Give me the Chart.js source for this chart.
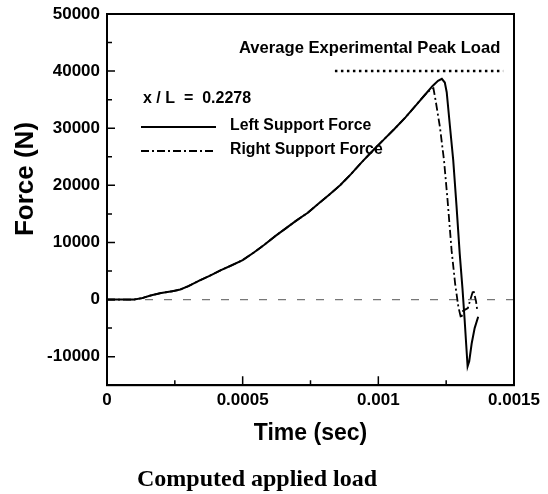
<!DOCTYPE html>
<html>
<head>
<meta charset="utf-8">
<script src="https://cdn.jsdelivr.net/npm/chart.js@4/dist/chart.umd.min.js"></script>
<style>
body{margin:0;background:#fff}
canvas{display:block}
</style>
</head>
<body>
<canvas id="forceChart" width="548" height="494"></canvas>
<script>

// left support force (solid)
let timeLeft = [0,0.0001,0.00013,0.00016,0.0002,0.00024,0.00027,0.0003,0.00034,0.00038,0.00042,0.00046,0.0005,0.00054,0.00058,0.00062,0.00066,0.0007,0.00074,0.00078,0.00082,0.00086,0.0009,0.00094,0.00098,0.00102,0.00106,0.0011,0.00114,0.00118,0.0012,0.00122,0.001234,0.001245,0.001252,0.001264,0.001276,0.001288,0.0013,0.00131,0.001318,0.001324,0.001329,0.001335,0.001344,0.001355,0.001368]
let forceLeft = [0,0,250,700,1150,1450,1750,2350,3300,4200,5150,6000,6900,8200,9600,11100,12500,13900,15200,16800,18400,20050,22000,24100,26100,28000,29900,31900,34100,36300,37400,38300,38650,38000,36300,30300,24400,16500,8000,2000,-3500,-8000,-11700,-10800,-7700,-5000,-3000]

// right support force (dash-dot)
let timeRight = [0,0.0001,0.00013,0.00016,0.0002,0.00024,0.00027,0.0003,0.00034,0.00038,0.00042,0.00046,0.0005,0.00054,0.00058,0.00062,0.00066,0.0007,0.00074,0.00078,0.00082,0.00086,0.0009,0.00094,0.00098,0.00102,0.00106,0.0011,0.00114,0.00118,0.001203,0.001211,0.001227,0.001242,0.001255,0.00127,0.001283,0.001295,0.001305,0.001312,0.00133,0.00135,0.00136,0.001365]
let forceRight = [0,0,250,700,1150,1450,1750,2350,3300,4200,5150,6000,6900,8200,9600,11100,12500,13900,15200,16800,18400,20050,22000,24100,26100,28000,29900,31900,34100,36300,37000,34900,30200,24400,17500,8600,2800,-1300,-3300,-2000,-1500,1700,-300,-2000]

let peakLoad = 40000
let peakTimes = [0.00084,0.00146]

let xTicks = [0,0.0005,0.001,0.0015]
let xTickLabels = ["0","0.0005","0.001","0.0015"]
let xMinor = [0.00025,0.00075,0.00125]
let yTicks = [-10000,0,10000,20000,30000,40000,50000]
let yMinor = [-5000,5000,15000,25000,35000,45000]

let sans = "'Liberation Sans', Arial, sans-serif"

function pts(xs,ys){
return xs.map((x,i)=>({x:x,y:ys[i]}))
}

let frame = {
id:"frame",
afterDraw(chart){
let ctx = chart.ctx
let a = chart.chartArea
let xs = chart.scales.x
let ys = chart.scales.y
ctx.save()
ctx.strokeStyle = "#000"
ctx.lineWidth = 2
ctx.strokeRect(a.left,a.top,a.right-a.left,a.bottom-a.top)

// inward ticks
ctx.lineWidth = 1.5
ctx.beginPath()
xTicks.forEach(v=>{let p=xs.getPixelForValue(v);ctx.moveTo(p,a.bottom);ctx.lineTo(p,a.bottom-9)})
xMinor.forEach(v=>{let p=xs.getPixelForValue(v);ctx.moveTo(p,a.bottom);ctx.lineTo(p,a.bottom-5)})
yTicks.forEach(v=>{let p=ys.getPixelForValue(v);ctx.moveTo(a.left,p);ctx.lineTo(a.left+8,p)})
yMinor.forEach(v=>{let p=ys.getPixelForValue(v);ctx.moveTo(a.left,p);ctx.lineTo(a.left+5,p)})
ctx.stroke()

ctx.fillStyle = "#000"
ctx.textBaseline = "middle"
ctx.font = "bold 16.6px " + sans
ctx.textAlign = "left"
ctx.fillText("Average Experimental Peak Load",239,48)
ctx.font = "bold 16px " + sans
ctx.fillText("x / L  =  0.2278",143,99)
ctx.font = "bold 15.8px " + sans
ctx.fillText("Left Support Force",230,126)
ctx.fillText("Right Support Force",230,150)

// legend samples
ctx.lineWidth = 2
ctx.beginPath()
ctx.moveTo(141,127)
ctx.lineTo(216,127)
ctx.stroke()
ctx.lineWidth = 1.8
ctx.setLineDash([8,3,2,3])
ctx.beginPath()
ctx.moveTo(141,151)
ctx.lineTo(216,151)
ctx.stroke()
ctx.setLineDash([])

// y axis title
ctx.translate(26,179)
ctx.rotate(-Math.PI/2)
ctx.textAlign = "center"
ctx.font = "bold 26px " + sans
ctx.fillText("Force (N)",0,0)
ctx.restore()
}
}

new Chart(document.getElementById("forceChart"),{

type:"line",

data:{
datasets:[
{
label:"Left Support Force",
data:pts(timeLeft,forceLeft),
borderColor:"#000",
borderWidth:2,
pointRadius:0,
order:1
},
{
label:"Right Support Force",
data:pts(timeRight,forceRight),
borderColor:"#000",
borderWidth:1.8,
borderDash:[8,3,2,3],
pointRadius:0,
order:2
},
{
label:"Average Experimental Peak Load",
data:pts(peakTimes,[peakLoad,peakLoad]),
borderColor:"#000",
borderWidth:2.5,
borderDash:[2.5,3.5],
pointRadius:0,
order:3
},
{
label:"zero",
data:pts([0,0.0015],[0,0]),
borderColor:"#777",
borderWidth:1.3,
borderDash:[8,11],
pointRadius:0,
order:4
}
]
},

options:{
responsive:false,
animation:false,
layout:{padding:{left:0,top:14,right:34,bottom:0}},
plugins:{
legend:{display:false},
tooltip:{enabled:false},
title:{
display:true,
position:"bottom",
text:"Computed applied load",
color:"#000",
font:{family:"'Liberation Serif', 'Times New Roman', serif",size:24,weight:"bold"},
padding:{top:0,bottom:0}
}
},
scales:{
x:{
type:"linear",
min:0,
max:0.0015,
grid:{display:false,drawTicks:false},
border:{display:true,color:"#000",width:2},
afterBuildTicks(s){s.ticks = xTicks.map(v=>({value:v}))},
afterFit(s){s.height = 80; s.paddingLeft = 0; s.paddingRight = 0},
ticks:{
color:"#000",
padding:5,
maxRotation:0,
font:{family:sans,size:17,weight:"bold"},
callback:(v)=>xTickLabels[xTicks.indexOf(v)]
},
title:{
display:true,
text:"Time (sec)",
color:"#000",
font:{family:sans,size:23,weight:"bold"},
padding:{top:0,bottom:18}
}
},
y:{
type:"linear",
min:-15000,
max:50000,
grid:{display:false,drawTicks:false},
border:{display:true,color:"#000",width:2},
afterBuildTicks(s){s.ticks = yTicks.map(v=>({value:v}))},
afterFit(s){s.width = 107; s.paddingTop = 0; s.paddingBottom = 0},
ticks:{
color:"#000",
padding:7,
font:{family:sans,size:17,weight:"bold"},
callback:(v)=>String(v)
}
}
}
},

plugins:[frame]

})

</script>
</body>
</html>
